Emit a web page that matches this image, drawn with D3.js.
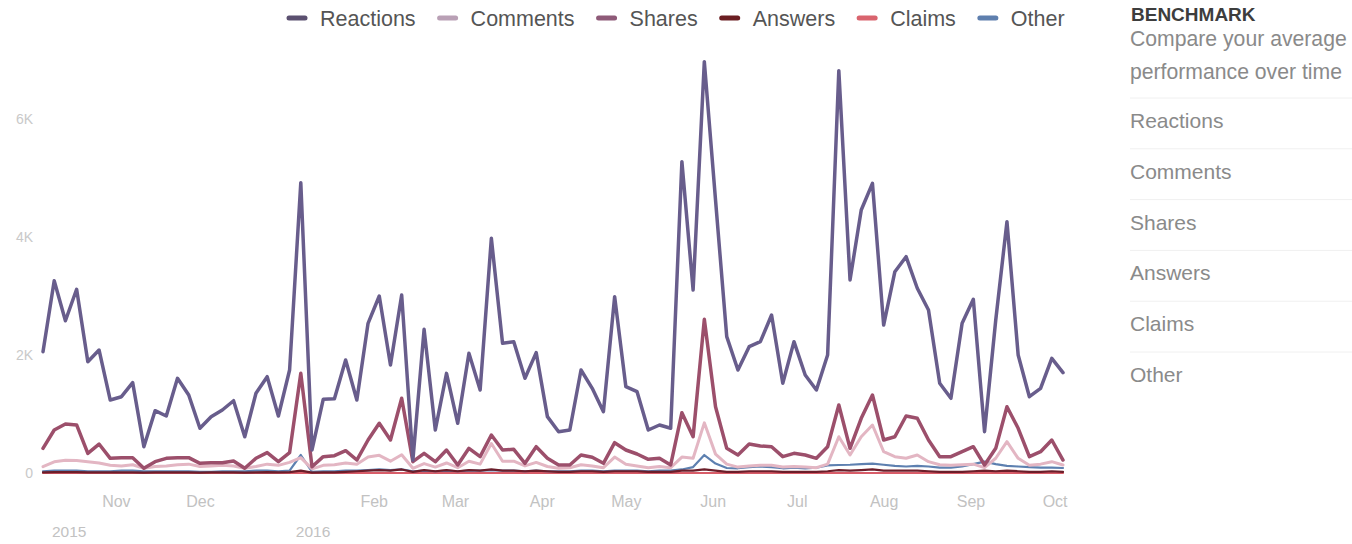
<!DOCTYPE html>
<html>
<head>
<meta charset="utf-8">
<script src="https://cdnjs.cloudflare.com/ajax/libs/d3/7.8.5/d3.min.js"></script>
<style>
  body { margin: 0; background: #fff; }
  svg { display: block; font-family: 'Liberation Sans', Arial, sans-serif; }
</style>
</head>
<body>
<svg></svg>
<script>
// chart data, one value every 4 days starting 6 Oct 2015
var start_date = new Date(2015, 9, 6),
  step_days = 4;

var series_names = ['Reactions', 'Comments', 'Shares', 'Answers', 'Claims', 'Other'];
var series_colors = ['#685d8c', '#e3b6c3', '#9c4f6b', '#6b1e2a', '#d85c68', '#5d80b0'];
var legend_colors = ['#5b5070', '#b9a0b5', '#8e5a78', '#6b1e22', '#d9646e', '#5e7fae'];

var reactions = [2056, 3259, 2581, 3114, 1886, 2085, 1237, 1293, 1531, 446, 1056, 966, 1605, 1322, 758, 954,
  1068, 1225, 615, 1351, 1632, 966, 1746, 4920, 390, 1249, 1259, 1915, 1237, 2537, 3000, 1830,
  3017, 220, 2435, 729, 1689, 842, 2028, 1407, 3978, 2198, 2226, 1605, 2040, 955, 700, 729,
  1746, 1435, 1040, 2989, 1463, 1378, 729, 814, 758, 5277, 3102, 6972, 4627, 2311, 1746, 2141,
  2226, 2678, 1520, 2226, 1661, 1407, 2000, 6819, 3271, 4458, 4910, 2508, 3412, 3666, 3131, 2763,
  1520, 1266, 2537, 2944, 700, 2593, 4259, 2000, 1293, 1435, 1944, 1700];

var comments = [107, 190, 215, 210, 190, 170, 130, 120, 140, 80, 110, 120, 140, 150, 110, 120,
  130, 120, 80, 110, 150, 130, 180, 260, 70, 130, 140, 170, 150, 270, 300, 200,
  310, 80, 160, 100, 170, 90, 200, 150, 500, 200, 200, 120, 180, 110, 80, 90,
  140, 120, 90, 270, 150, 120, 90, 110, 90, 270, 250, 850, 320, 150, 100, 120,
  130, 130, 100, 110, 100, 90, 150, 615, 305, 615, 814, 361, 277, 249, 305, 192,
  140, 130, 140, 150, 90, 250, 531, 249, 130, 150, 192, 136];

var shares = [418, 729, 830, 814, 333, 491, 249, 260, 260, 80, 192, 249, 260, 260, 164, 175,
  175, 203, 80, 249, 345, 192, 345, 1689, 107, 277, 294, 378, 220, 559, 842, 560,
  1266, 192, 333, 192, 390, 136, 418, 277, 644, 390, 401, 164, 446, 249, 136, 136,
  305, 266, 164, 514, 390, 322, 232, 249, 136, 1022, 615, 2605, 1124, 418, 305, 491,
  458, 446, 277, 333, 305, 249, 446, 1153, 418, 927, 1322, 559, 615, 966, 927, 559,
  277, 277, 361, 446, 136, 418, 1124, 758, 277, 361, 559, 220];

var answers = [10, 15, 15, 15, 10, 10, 10, 10, 10, 5, 10, 10, 10, 10, 5, 10,
  10, 10, 5, 10, 15, 10, 15, 40, 5, 10, 10, 20, 30, 40, 50, 40,
  60, 20, 50, 30, 50, 30, 50, 40, 60, 40, 40, 30, 40, 30, 20, 20,
  30, 30, 20, 30, 30, 30, 20, 20, 20, 40, 40, 60, 40, 20, 20, 30,
  30, 30, 20, 20, 20, 20, 30, 50, 40, 50, 60, 40, 40, 40, 40, 30,
  20, 20, 20, 30, 40, 30, 40, 30, 20, 20, 30, 20];

var claims = [0, 0, 0, 0, 0, 0, 0, 0, 0, 0, 0, 0, 0, 0, 0, 0,
  0, 0, 0, 0, 0, 0, 0, 0, 0, 0, 0, 0, 0, 0, 0, 0,
  0, 0, 0, 0, 0, 0, 0, 0, 0, 0, 0, 0, 0, 0, 0, 0,
  0, 0, 0, 0, 0, 0, 0, 0, 0, 0, 0, 0, 0, 0, 0, 0,
  0, 0, 0, 0, 0, 0, 0, 0, 0, 0, 0, 0, 0, 0, 0, 0,
  0, 0, 0, 0, 0, 0, 0, 0, 0, 0, 0, 0];

var other = [30, 40, 40, 40, 30, 30, 30, 40, 40, 30, 30, 30, 30, 30, 20, 20,
  30, 30, 30, 40, 40, 30, 40, 305, 20, 30, 30, 40, 40, 50, 60, 50,
  60, 30, 40, 30, 40, 30, 40, 40, 50, 40, 40, 30, 40, 30, 30, 30,
  40, 40, 30, 40, 40, 40, 30, 40, 40, 60, 100, 305, 160, 85, 80, 100,
  110, 100, 80, 90, 80, 90, 130, 136, 140, 150, 160, 140, 120, 110, 120, 110,
  90, 90, 110, 150, 192, 150, 120, 110, 100, 90, 90, 85];

var y_ticks = [0, 2000, 4000, 6000];
var y_tick_labels = ['0', '2K', '4K', '6K'];
var year_labels = ['2015', '2016'];

var panel_title = 'BENCHMARK',
  panel_lines = ['Compare your average', 'performance over time'];

// layout constants
var svg_width = 1352,
  svg_height = 544,
  plot_left = 43,
  plot_right = 1063,
  plot_top = 60,
  plot_bottom = 473;

var all_values = [reactions, comments, shares, answers, claims, other];
var dates = reactions.map(function(d, i) {
  return d3.timeDay.offset(start_date, i * step_days);
});

var svg = d3
  .select('svg')
  .attr('width', svg_width)
  .attr('height', svg_height);

var x = d3
  .scaleTime()
  .domain([dates[0], dates[dates.length - 1]])
  .range([plot_left, plot_right]);

var y = d3
  .scaleLinear()
  .domain([0, 7000])
  .range([plot_bottom, plot_top]);

// y axis labels, very faint
var y_axis = svg
  .append('g')
  .attr('transform', 'translate(33,0)')
  .call(
    d3
      .axisLeft(y)
      .tickValues(y_ticks)
      .tickSize(0)
      .tickPadding(0)
      .tickFormat(function(d, i) {
        return y_tick_labels[i];
      })
  );
y_axis.select('.domain').remove();
y_axis
  .selectAll('text')
  .attr('fill', '#c9c9c9')
  .style('font-size', '14px')
  .style('font-family', 'Liberation Sans, Arial, sans-serif');

// x axis: month names, january left blank for the year row
var x_axis = svg
  .append('g')
  .attr('transform', 'translate(0,' + (plot_bottom + 20) + ')')
  .call(
    d3
      .axisBottom(x)
      .ticks(d3.timeMonth.every(1))
      .tickSize(0)
      .tickFormat(function(d) {
        return d.getMonth() === 0 ? '' : d3.timeFormat('%b')(d);
      })
  );
x_axis.select('.domain').remove();
x_axis
  .selectAll('text')
  .attr('fill', '#c2c2c2')
  .style('font-size', '16px')
  .style('font-family', 'Liberation Sans, Arial, sans-serif');

var year_dates = [dates[0], new Date(2016, 0, 1)];
svg
  .append('g')
  .selectAll('text')
  .data(year_labels)
  .enter()
  .append('text')
  .attr('x', function(d, i) {
    return x(year_dates[i]) + 9;
  })
  .attr('y', 537)
  .attr('fill', '#c2c2c2')
  .style('font-size', '15.5px')
  .text(function(d) {
    return d;
  });

// lines, reactions drawn last so it sits on top
var line_widths = [3.5, 3, 3.5, 2.2, 2.2, 2.2];
var line = d3
  .line()
  .x(function(d, i) {
    return x(dates[i]);
  })
  .y(function(d) {
    return y(d);
  });

var order = [4, 5, 3, 1, 2, 0];
var lines = svg.append('g').attr('fill', 'none');
order.forEach(function(k) {
  lines
    .append('path')
    .datum(all_values[k])
    .attr('stroke', series_colors[k])
    .attr('stroke-width', line_widths[k])
    .attr('stroke-linejoin', 'round')
    .attr('stroke-linecap', 'round')
    .attr('d', line);
});

// top legend
var legend = svg.append('g').attr('transform', 'translate(287,18)');
var legend_x = 0;
series_names.forEach(function(name, i) {
  var item = legend.append('g').attr('transform', 'translate(' + legend_x + ',0)');
  item
    .append('line')
    .attr('x1', 2)
    .attr('x2', 18)
    .attr('stroke', legend_colors[i])
    .attr('stroke-width', 5)
    .attr('stroke-linecap', 'round');
  var label = item
    .append('text')
    .attr('x', 33)
    .attr('y', 8)
    .attr('fill', '#555')
    .style('font-size', '21.5px')
    .text(name);
  legend_x += 33 + label.node().getComputedTextLength() + 22;
});

// right side panel
var panel = svg.append('g').attr('transform', 'translate(1130,0)');
panel
  .append('text')
  .attr('x', 1)
  .attr('y', 21)
  .attr('fill', '#3d3d3d')
  .style('font-size', '19px')
  .style('font-weight', 'bold')
  .text(panel_title);

panel
  .selectAll('.desc')
  .data(panel_lines)
  .enter()
  .append('text')
  .attr('class', 'desc')
  .attr('y', function(d, i) {
    return 46 + i * 33;
  })
  .attr('fill', '#8a8a8a')
  .style('font-size', '21.2px')
  .text(function(d) {
    return d;
  });

var item_gap = 50.8;
panel
  .selectAll('.sep')
  .data(series_names)
  .enter()
  .append('line')
  .attr('class', 'sep')
  .attr('x1', 0)
  .attr('x2', 230)
  .attr('y1', function(d, i) {
    return 98 + i * item_gap;
  })
  .attr('y2', function(d, i) {
    return 98 + i * item_gap;
  })
  .attr('stroke', '#f0f0f0')
  .attr('stroke-width', 1);

panel
  .selectAll('.item')
  .data(series_names)
  .enter()
  .append('text')
  .attr('class', 'item')
  .attr('y', function(d, i) {
    return 128 + i * item_gap;
  })
  .attr('fill', '#8a8a8a')
  .style('font-size', '21px')
  .text(function(d) {
    return d;
  });
</script>
</body>
</html>
